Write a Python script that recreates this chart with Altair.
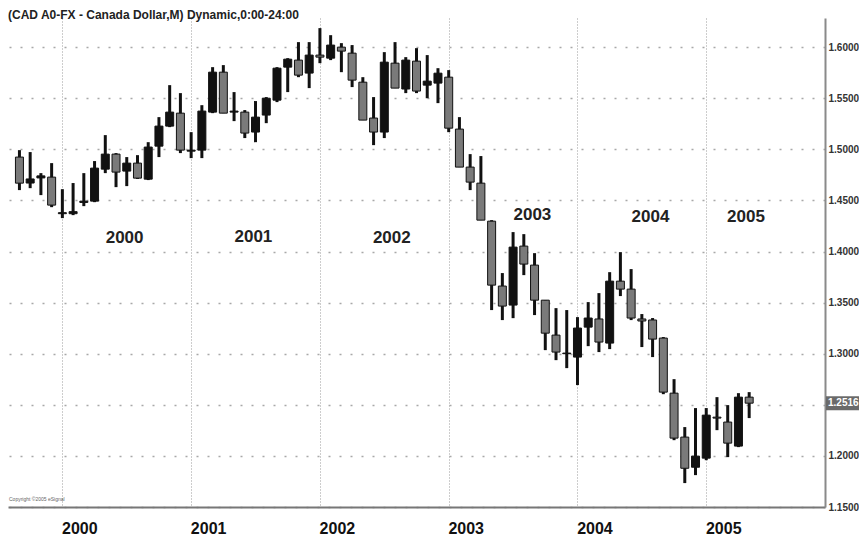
import altair as alt
import pandas as pd
import numpy as np

# ---------------- data ----------------
months = [
    "1999-09", "1999-10", "1999-11", "1999-12",
    "2000-01", "2000-02", "2000-03", "2000-04", "2000-05", "2000-06",
    "2000-07", "2000-08", "2000-09", "2000-10", "2000-11", "2000-12",
    "2001-01", "2001-02", "2001-03", "2001-04", "2001-05", "2001-06",
    "2001-07", "2001-08", "2001-09", "2001-10", "2001-11", "2001-12",
    "2002-01", "2002-02", "2002-03", "2002-04", "2002-05", "2002-06",
    "2002-07", "2002-08", "2002-09", "2002-10", "2002-11", "2002-12",
    "2003-01", "2003-02", "2003-03", "2003-04", "2003-05", "2003-06",
    "2003-07", "2003-08", "2003-09", "2003-10", "2003-11", "2003-12",
    "2004-01", "2004-02", "2004-03", "2004-04", "2004-05", "2004-06",
    "2004-07", "2004-08", "2004-09", "2004-10", "2004-11", "2004-12",
    "2005-01", "2005-02", "2005-03", "2005-04", "2005-05",
]
opens = [
    1.4924, 1.4670, 1.4720, 1.4728,
    1.4370, 1.4370, 1.4480, 1.4493, 1.4806, 1.4953,
    1.4787, 1.4865, 1.4708, 1.5031, 1.5227, 1.5354,
    1.4982, 1.4992, 1.5364, 1.5755, 1.5364, 1.5364,
    1.5169, 1.5335, 1.5481, 1.5804, 1.5873, 1.5746,
    1.5922, 1.5892, 1.6000, 1.5941, 1.5657, 1.5306,
    1.5169, 1.5843, 1.5590, 1.5863, 1.5628, 1.5648,
    1.5706, 1.5198, 1.4826, 1.4669, 1.4297, 1.3662,
    1.3476, 1.4053, 1.3867, 1.3524, 1.3182, 1.3000,
    1.2967, 1.3260, 1.3340, 1.3104, 1.3710, 1.3632,
    1.3340, 1.3330, 1.3153, 1.2614, 1.2184, 1.1889,
    1.1978, 1.2379, 1.2331, 1.2096, 1.2575,
]
highs = [
    1.4992, 1.4973, 1.4767, 1.4865,
    1.4610, 1.4670, 1.4767, 1.4885, 1.5139, 1.4963,
    1.4924, 1.4943, 1.5070, 1.5315, 1.5628, 1.5550,
    1.5168, 1.5432, 1.5804, 1.5824, 1.5560, 1.5384,
    1.5472, 1.5511, 1.5804, 1.5892, 1.6049, 1.6049,
    1.6186, 1.6117, 1.6039, 1.6020, 1.5706, 1.5511,
    1.5951, 1.6049, 1.5902, 1.5990, 1.5922, 1.5794,
    1.5775, 1.5315, 1.4953, 1.4934, 1.4307, 1.3789,
    1.4190, 1.4170, 1.3984, 1.3524, 1.3446, 1.3427,
    1.3358, 1.3505, 1.3593, 1.3798, 1.3994, 1.3828,
    1.3388, 1.3349, 1.3163, 1.2751, 1.2282, 1.2468,
    1.2468, 1.2575, 1.2497, 1.2614, 1.2624,
]
lows = [
    1.4601, 1.4620, 1.4552, 1.4434,
    1.4327, 1.4356, 1.4444, 1.4483, 1.4767, 1.4630,
    1.4640, 1.4710, 1.4699, 1.4924, 1.5217, 1.4963,
    1.4914, 1.4914, 1.5354, 1.5354, 1.5276, 1.5110,
    1.5070, 1.5256, 1.5462, 1.5560, 1.5706, 1.5599,
    1.5843, 1.5873, 1.5755, 1.5609, 1.5286, 1.5041,
    1.5110, 1.5599, 1.5550, 1.5550, 1.5500, 1.5452,
    1.5168, 1.4826, 1.4601, 1.4307, 1.3427, 1.3329,
    1.3348, 1.3769, 1.3378, 1.3035, 1.2937, 1.2859,
    1.2693, 1.3074, 1.3016, 1.3045, 1.3564, 1.3329,
    1.3065, 1.2967, 1.2604, 1.2154, 1.1734, 1.1812,
    1.1958, 1.2252, 1.1988, 1.2086, 1.2370,
]
closes = [
    1.4669, 1.4710, 1.4740, 1.4454,
    1.4380, 1.4390, 1.4493, 1.4816, 1.4953, 1.4777,
    1.4865, 1.4718, 1.5022, 1.5227, 1.5364, 1.4992,
    1.4992, 1.5374, 1.5755, 1.5354, 1.5374, 1.5159,
    1.5315, 1.5500, 1.5794, 1.5882, 1.5726, 1.5922,
    1.5902, 1.6020, 1.5961, 1.5677, 1.5286, 1.5169,
    1.5853, 1.5599, 1.5873, 1.5570, 1.5667, 1.5745,
    1.5207, 1.4826, 1.4679, 1.4307, 1.3671, 1.3466,
    1.4043, 1.3877, 1.3524, 1.3201, 1.3016, 1.3006,
    1.3251, 1.3349, 1.3114, 1.3710, 1.3632, 1.3349,
    1.3320, 1.3143, 1.2624, 1.2174, 1.1879, 1.1998,
    1.2399, 1.2370, 1.2125, 1.2575, 1.2516,
]

year_ticks = [2000, 2001, 2002, 2003, 2004, 2005]
price_ticks = [1.15, 1.20, 1.25, 1.30, 1.35, 1.40, 1.45, 1.50, 1.55, 1.60]

anno_text = ["2000", "2001", "2002", "2003", "2004", "2005"]
anno_month = [5.8, 17.8, 30.7, 43.8, 54.8, 63.7]   # months after Jan 2000
anno_price = [1.4131, 1.4140, 1.4131, 1.4356, 1.4337, 1.4337]

title_text = "(CAD A0-FX - Canada Dollar,M) Dynamic,0:00-24:00"
copyright_text = "Copyright ©2005 eSignal"

# ---------------- frames ----------------
df = pd.DataFrame({"month": months, "open": opens, "high": highs,
                   "low": lows, "close": closes})
df["t"] = [(int(m[:4]) - 2000) * 12 + int(m[5:]) - 1 for m in months]
df["dir"] = np.where(df["close"] >= df["open"], "up", "down")

anno = pd.DataFrame({"label": anno_text, "t": anno_month, "p": anno_price})
last = pd.DataFrame({"p": [closes[-1]]})

FONT = "Liberation Sans"
W, H = 817, 489

xs = alt.Scale(domain=[-4.6, 70.6], nice=False, zero=False)
ys = alt.Scale(domain=[1.15, 1.6285], nice=False, zero=False)

x_axis = alt.Axis(
    values=[(y - 2000) * 12 for y in year_ticks],
    labelExpr="'' + (2000 + round(datum.value / 12))",
    grid=True, gridDash=[1, 2], gridColor="#9a9a9a", gridWidth=1,
    ticks=False, domainColor="#777777", domainWidth=2,
    labelFontSize=16, labelFontWeight="bold", labelColor="#111111",
    labelFont=FONT, labelOffset=17, labelPadding=13, title=None,
)
y_axis = alt.Axis(
    orient="right", values=price_ticks,
    labelExpr="abs(datum.value - 1.25) < 0.001 ? '' : format(datum.value, '.4f')",
    grid=True, gridDash=[2, 9], gridColor="#a8a8a8", gridWidth=1.5,
    ticks=False, domainColor="#8a8a8a", domainWidth=2,
    labelFontSize=10, labelFontWeight="bold", labelColor="#333333",
    labelFont=FONT, labelPadding=3, title=None,
)

base = alt.Chart(df)

wicks = base.mark_rule(strokeWidth=3, color="#111111").encode(
    x=alt.X("t:Q", scale=xs, axis=x_axis),
    y=alt.Y("low:Q", scale=ys, axis=y_axis),
    y2="high:Q",
)

bodies = base.mark_bar(size=8, stroke="#111111", strokeWidth=1).encode(
    x=alt.X("t:Q", scale=xs, title=None),
    y=alt.Y("open:Q", scale=ys, title=None),
    y2="close:Q",
    color=alt.Color("dir:N", scale=alt.Scale(domain=["up", "down"],
                                             range=["#111111", "#7a7a7a"]),
                    legend=None),
)

labels = alt.Chart(anno).mark_text(
    fontSize=17, fontWeight="bold", color="#222222", font=FONT
).encode(
    x=alt.X("t:Q", scale=xs, title=None),
    y=alt.Y("p:Q", scale=ys, title=None),
    text="label:N",
)

title = alt.Chart(pd.DataFrame({"label": [title_text]})).mark_text(
    align="left", baseline="middle", fontSize=12, fontWeight="bold",
    color="#222222", font=FONT
).encode(x=alt.value(0), y=alt.value(-3), text="label:N")

copy = alt.Chart(pd.DataFrame({"label": [copyright_text]})).mark_text(
    align="left", baseline="middle", fontSize=5, color="#666666", font=FONT
).encode(x=alt.value(1), y=alt.value(H - 8), text="label:N")

price_box = alt.Chart(last).mark_rule(
    strokeWidth=14, color="#6a6a6a", strokeCap="butt"
).encode(
    x=alt.value(W + 1), x2=alt.value(W + 50),
    y=alt.Y("p:Q", scale=ys, title=None),
)
price_txt = alt.Chart(last).mark_text(
    align="left", baseline="middle", fontSize=10, fontWeight="bold",
    color="white", font=FONT
).encode(
    x=alt.value(W + 3),
    y=alt.Y("p:Q", scale=ys, title=None),
    text=alt.Text("p:Q", format=".4f"),
)

chart = alt.layer(wicks, bodies, labels, title, copy, price_box, price_txt).properties(
    width=W, height=H,
    autosize=alt.AutoSizeParams(type="none"),
    padding={"left": 0, "top": 10, "right": 34, "bottom": 30},
    background="white",
).configure_view(stroke=None).configure_text(font=FONT)

chart.save("out.html", embed_options={"renderer": "svg", "actions": False})
